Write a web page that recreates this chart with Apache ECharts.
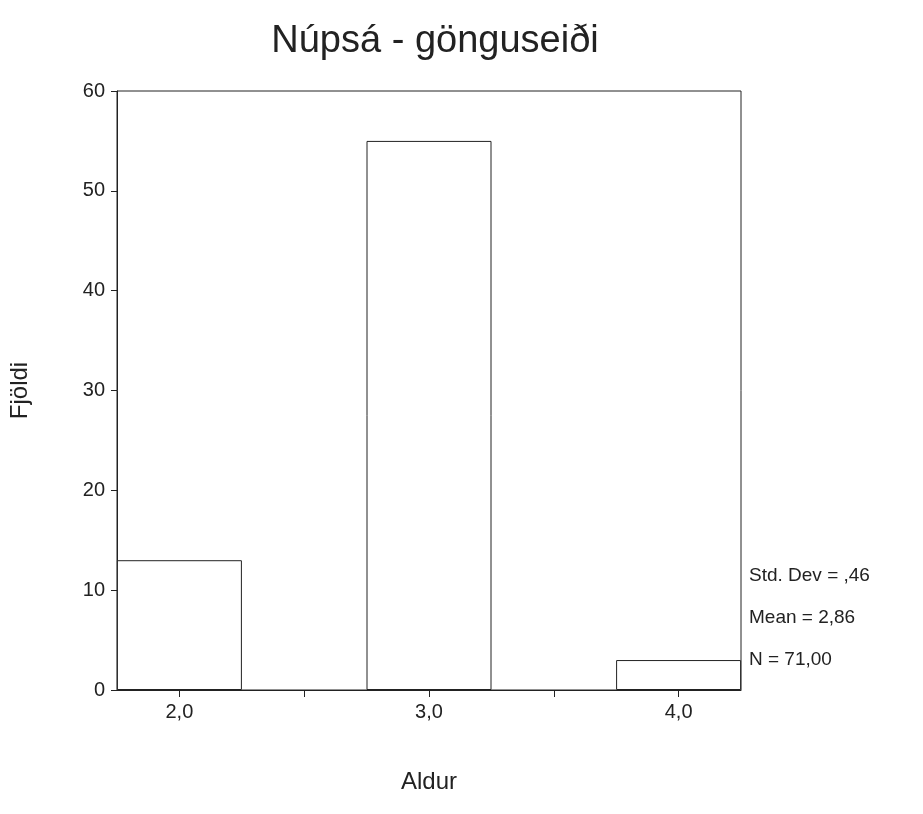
<!DOCTYPE html>
<html>
<head>
<meta charset="utf-8">
<script src="https://cdn.jsdelivr.net/npm/echarts@6/dist/echarts.min.js"></script>
<style>html,body{margin:0;background:#fff}#main{width:923px;height:814px}</style>
</head>
<body>
<div id="main"></div>
<script>
var ages = [2, 3, 4];
var counts = [13, 55, 3];
var stats = ['Std. Dev = ,46', 'Mean = 2,86', 'N = 71,00'];
var font = '"Liberation Sans", Arial, sans-serif';

function fmt(v) { return v.toFixed(1).replace('.', ','); }

echarts.init(document.getElementById('main')).setOption({
  animation: false,
  title: {text: 'Núpsá - gönguseiði', left: 430, textAlign: 'center', top: 18,
    textStyle: {fontFamily: font, fontSize: 38, fontWeight: 'normal', color: '#222'}},
  grid: {left: 113, right: 182, top: 91, bottom: 124, show: true,
    borderColor: '#222', borderWidth: 1},
  xAxis: {
    type: 'value', min: 1.75, max: 4.25,
    name: 'Aldur', nameLocation: 'middle', nameGap: 80,
    nameTextStyle: {fontFamily: font, fontSize: 24, color: '#222'},
    splitLine: {show: false},
    axisLine: {lineStyle: {color: '#222'}},
    axisTick: {customValues: [2, 2.5, 3, 3.5, 4], length: 7, lineStyle: {color: '#222'}},
    axisLabel: {customValues: ages, formatter: fmt, fontFamily: font, fontSize: 20, color: '#222', margin: 12}
  },
  yAxis: {
    type: 'value', min: 0, max: 60, interval: 10,
    name: 'Fjöldi', nameLocation: 'middle', nameGap: 85,
    nameTextStyle: {fontFamily: font, fontSize: 24, color: '#222'},
    splitLine: {show: false},
    axisLine: {show: true, lineStyle: {color: '#222'}},
    axisTick: {show: true, length: 6, lineStyle: {color: '#222'}},
    axisLabel: {fontFamily: font, fontSize: 20, color: '#222', margin: 12}
  },
  graphic: stats.map(function (s, i) {
    return {type: 'text', left: 749, top: 566 + i * 42,
      style: {text: s, font: '19px ' + font, fill: '#222'}};
  }),
  series: [{
    type: 'bar',
    barWidth: 125,
    data: ages.map(function (a, i) { return [a, counts[i]]; }),
    itemStyle: {color: '#fff', borderColor: '#222', borderWidth: 1}
  }]
});
</script>
</body>
</html>
